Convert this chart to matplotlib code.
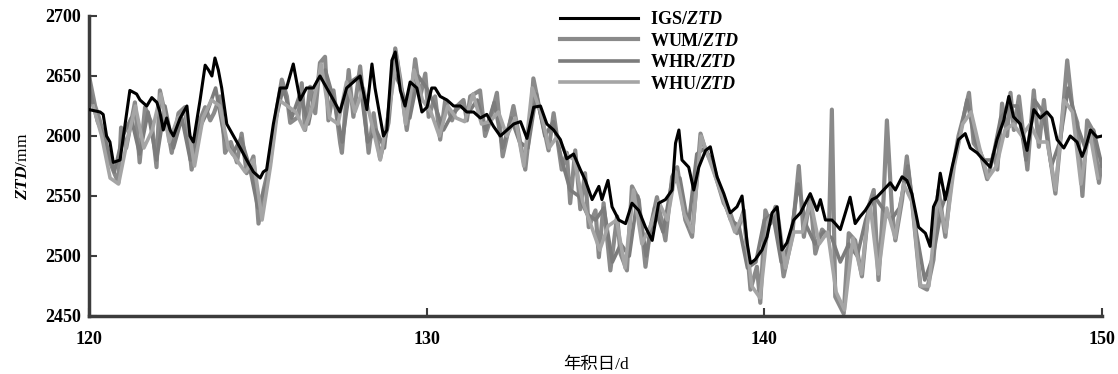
import numpy as np
import matplotlib
matplotlib.use("Agg")
import matplotlib.pyplot as plt

plt.rcParams["font.family"] = ["Liberation Serif", "Noto Sans CJK SC"]
plt.rcParams["font.weight"] = "bold"
plt.rcParams["mathtext.fontset"] = "custom"
plt.rcParams["mathtext.it"] = "Liberation Serif:italic:bold"
plt.rcParams["mathtext.rm"] = "Liberation Serif:bold"

# IGS reference ZTD (black line)
igs_day = [120.0, 120.33, 120.42, 120.52, 120.62, 120.72, 120.92, 121.12, 121.21, 121.41,
           121.51, 121.71, 121.86, 122.01, 122.1, 122.2, 122.3, 122.4, 122.5, 122.7,
           122.9, 122.99, 123.09, 123.29, 123.44, 123.54, 123.64, 123.73, 123.83, 123.93,
           124.08, 124.28, 124.48, 124.67, 124.87, 125.07, 125.16, 125.26, 125.46, 125.66,
           125.85, 126.05, 126.25, 126.44, 126.64, 126.84, 127.04, 127.24, 127.43, 127.63,
           127.83, 128.03, 128.23, 128.38, 128.47, 128.62, 128.72, 128.82, 128.97, 129.07,
           129.22, 129.36, 129.51, 129.71, 129.86, 130.01, 130.15, 130.25, 130.4, 130.6,
           130.8, 131.0, 131.19, 131.39, 131.59, 131.78, 131.98, 132.18, 132.38, 132.58,
           132.78, 132.97, 133.17, 133.37, 133.56, 133.76, 133.96, 134.15, 134.35, 134.55,
           134.7, 134.9, 135.1, 135.19, 135.37, 135.49, 135.69, 135.89, 136.08, 136.28,
           136.48, 136.68, 136.87, 137.07, 137.27, 137.37, 137.47, 137.56, 137.76, 137.91,
           138.06, 138.26, 138.4, 138.6, 138.8, 138.99, 139.19, 139.34, 139.49, 139.59,
           139.73, 139.93, 140.08, 140.23, 140.38, 140.52, 140.67, 140.87, 141.07, 141.36,
           141.56, 141.66, 141.81, 142.0, 142.1, 142.25, 142.4, 142.54, 142.69, 142.84,
           142.99, 143.19, 143.33, 143.53, 143.73, 143.88, 144.08, 144.22, 144.37, 144.57,
           144.77, 144.91, 145.01, 145.11, 145.21, 145.36, 145.56, 145.75, 145.95, 146.1,
           146.3, 146.49, 146.69, 146.89, 147.09, 147.24, 147.38, 147.58, 147.78, 147.98,
           148.17, 148.37, 148.52, 148.67, 148.87, 149.06, 149.26, 149.41, 149.51, 149.66,
           149.85, 150.0]
igs_ztd = [2622, 2620, 2618, 2600, 2595, 2578, 2580, 2620, 2638, 2635,
           2630, 2625, 2632, 2628, 2620, 2605, 2615, 2605, 2600, 2615,
           2625, 2600, 2595, 2630, 2659, 2655, 2650, 2665, 2655, 2640,
           2610, 2600, 2590, 2580, 2570, 2565, 2570, 2572, 2610, 2640,
           2640, 2660, 2630, 2640, 2640, 2650, 2640, 2630, 2620, 2640,
           2645, 2650, 2622, 2660, 2640, 2616, 2600, 2605, 2663, 2670,
           2638, 2625, 2645, 2640, 2620, 2624, 2640, 2640, 2633, 2630,
           2625, 2625, 2620, 2620, 2615, 2618, 2608, 2600, 2605, 2610,
           2612, 2598, 2624, 2625, 2610, 2605, 2597, 2581, 2585, 2572,
           2563, 2547, 2558, 2547, 2563, 2541, 2530, 2527, 2544, 2538,
           2524, 2513, 2544, 2547, 2555, 2594, 2605, 2580, 2574, 2555,
           2574, 2588, 2591, 2566, 2552, 2536, 2541, 2550, 2511, 2494,
           2497, 2505, 2516, 2536, 2541, 2505, 2511, 2530, 2536, 2552,
           2538, 2547, 2530, 2530, 2527, 2522, 2536, 2549, 2527, 2533,
           2538, 2547, 2549, 2555, 2561, 2555, 2566, 2563, 2552, 2524,
           2519, 2508, 2541, 2547, 2569, 2547, 2574, 2597, 2602, 2590,
           2586, 2580, 2574, 2597, 2613, 2633, 2616, 2610, 2588, 2622,
           2615, 2620, 2615, 2597, 2590, 2600, 2595, 2583, 2590, 2605,
           2599, 2600]

# WUM ZTD
wum_day = [120.0, 120.18, 120.3, 120.47, 120.6, 120.75, 120.87, 120.95, 121.1, 121.36,
           121.5, 121.66, 121.86, 122.0, 122.1, 122.25, 122.45, 122.65, 122.84, 123.04,
           123.24, 123.44, 123.59, 123.7, 123.88, 123.98, 124.03, 124.2, 124.38, 124.52,
           124.67, 124.87, 125.02, 125.17, 125.36, 125.56, 125.71, 125.86, 125.96, 126.2,
           126.3, 126.4, 126.55, 126.7, 126.84, 126.99, 127.09, 127.24, 127.44, 127.49,
           127.69, 127.83, 128.03, 128.28, 128.43, 128.62, 128.87, 129.07, 129.22, 129.41,
           129.51, 129.66, 129.81, 129.96, 130.06, 130.25, 130.4, 130.55, 130.75, 130.9,
           131.09, 131.19, 131.29, 131.58, 131.73, 131.88, 132.08, 132.25, 132.42, 132.57,
           132.92, 133.06, 133.16, 133.31, 133.46, 133.61, 133.76, 134.0, 134.15, 134.25,
           134.4, 134.55, 134.69, 134.8, 135.0, 135.1, 135.24, 135.44, 135.64, 135.74,
           135.93, 136.08, 136.28, 136.48, 136.63, 136.82, 137.07, 137.27, 137.42, 137.66,
           137.86, 138.11, 138.26, 138.45, 138.8, 139.0, 139.19, 139.39, 139.59, 139.78,
           139.88, 140.03, 140.18, 140.33, 140.57, 140.82, 141.02, 141.17, 141.36, 141.51,
           141.71, 141.91, 142.0, 142.1, 142.35, 142.5, 142.69, 142.89, 143.09, 143.24,
           143.38, 143.53, 143.63, 143.78, 143.88, 144.08, 144.22, 144.37, 144.62, 144.82,
           145.01, 145.16, 145.36, 145.56, 145.75, 145.9, 146.06, 146.2, 146.4, 146.6,
           146.8, 146.9, 147.04, 147.19, 147.29, 147.39, 147.54, 147.79, 147.98, 148.13,
           148.28, 148.43, 148.62, 148.77, 148.97, 149.12, 149.27, 149.42, 149.56, 149.76,
           149.91, 150.0]
wum_ztd = [2650, 2625, 2615, 2597, 2580, 2569, 2561, 2607, 2590, 2628,
           2578, 2624, 2610, 2574, 2638, 2619, 2586, 2619, 2624, 2572,
           2610, 2624, 2613, 2619, 2633, 2605, 2586, 2595, 2578, 2602,
           2569, 2583, 2527, 2555, 2578, 2622, 2647, 2633, 2611, 2616,
           2644, 2605, 2641, 2619, 2661, 2666, 2613, 2638, 2594, 2586,
           2655, 2616, 2658, 2586, 2619, 2581, 2611, 2673, 2647, 2605,
           2625, 2664, 2633, 2652, 2616, 2633, 2597, 2630, 2613, 2625,
           2630, 2613, 2633, 2638, 2600, 2613, 2636, 2583, 2605, 2625,
           2572, 2608, 2648, 2627, 2608, 2588, 2619, 2572, 2586, 2544,
           2588, 2539, 2569, 2524, 2538, 2499, 2544, 2488, 2533, 2502,
           2488, 2558, 2547, 2491, 2524, 2549, 2513, 2566, 2574, 2530,
           2516, 2602, 2588, 2577, 2544, 2535, 2519, 2538, 2472, 2491,
           2461, 2538, 2527, 2541, 2483, 2516, 2575, 2516, 2549, 2502,
           2522, 2516, 2622, 2466, 2452, 2519, 2513, 2483, 2541, 2555,
           2480, 2547, 2613, 2538, 2513, 2547, 2583, 2547, 2475, 2472,
           2497, 2555, 2516, 2569, 2600, 2616, 2636, 2594, 2586, 2564,
           2586, 2572, 2627, 2600, 2636, 2605, 2633, 2572, 2638, 2591,
           2630, 2589, 2552, 2597, 2663, 2624, 2611, 2550, 2613, 2603,
           2561, 2580]

# WHR ZTD, every 6 h from day 120.0
whr_start = 120.0
whr_ztd = [2640, 2612, 2595, 2570, 2600, 2615, 2585, 2620, 2580, 2625,
           2590, 2615, 2580, 2605, 2620, 2640, 2600, 2585, 2598, 2575,
           2540, 2560, 2610, 2640, 2615, 2635, 2610, 2645, 2655, 2630,
           2595, 2645, 2650, 2595, 2605, 2590, 2655, 2640, 2615, 2650,
           2640, 2625, 2605, 2618, 2625, 2620, 2630, 2605, 2628, 2590,
           2615, 2595, 2590, 2635, 2600, 2612, 2580, 2555, 2550, 2535,
           2530, 2540, 2495, 2510, 2500, 2550, 2500, 2540, 2520, 2560,
           2565, 2525, 2585, 2590, 2575, 2550, 2530, 2525, 2490, 2495,
           2530, 2535, 2495, 2510, 2560, 2525, 2510, 2520, 2515, 2495,
           2510, 2500, 2530, 2550, 2540, 2530, 2540, 2575, 2520, 2480,
           2500, 2540, 2560, 2595, 2630, 2595, 2580, 2580, 2615, 2625,
           2625, 2580, 2630, 2620, 2575, 2595, 2640, 2610, 2590, 2605,
           2575]

# WHU ZTD, every 6 h from day 120.125
whu_start = 120.125
whu_ztd = [2625, 2600, 2565, 2560, 2595, 2625, 2590, 2605, 2635, 2595,
           2615, 2620, 2575, 2615, 2630, 2625, 2590, 2580, 2570, 2580,
           2530, 2575, 2630, 2625, 2620, 2605, 2625, 2660, 2615, 2610,
           2645, 2620, 2640, 2610, 2580, 2620, 2665, 2610, 2655, 2630,
           2620, 2600, 2625, 2615, 2612, 2635, 2610, 2612, 2620, 2600,
           2615, 2575, 2640, 2620, 2590, 2600, 2585, 2580, 2545, 2525,
           2505, 2525, 2530, 2490, 2555, 2510, 2525, 2545, 2530, 2570,
           2535, 2520, 2600, 2580, 2560, 2540, 2520, 2535, 2475, 2465,
           2530, 2540, 2490, 2520, 2520, 2545, 2510, 2520, 2470, 2455,
           2515, 2485, 2545, 2485, 2540, 2515, 2560, 2545, 2475, 2475,
           2550, 2520, 2575, 2610, 2620, 2590, 2565, 2575, 2605, 2610,
           2600, 2610, 2595, 2595, 2555, 2630, 2620, 2560, 2605, 2565]

whr_day = whr_start + 0.25 * np.arange(len(whr_ztd))
whu_day = whu_start + 0.25 * np.arange(len(whu_ztd))

fig = plt.figure(figsize=(11.18, 3.74), dpi=100)
ax = fig.add_axes([89 / 1118, 1 - 316 / 374, (1102 - 89) / 1118, 300 / 374])

ax.plot(wum_day, wum_ztd, color="#8a8a8a", lw=3.0, label=r"WUM/$ZTD$", zorder=2)
ax.plot(whr_day, whr_ztd, color="#7c7c7c", lw=2.6, label=r"WHR/$ZTD$", zorder=2)
ax.plot(whu_day, whu_ztd, color="#a5a5a5", lw=2.6, label=r"WHU/$ZTD$", zorder=2)
ax.plot(igs_day, igs_ztd, color="black", lw=2.2, label=r"IGS/$ZTD$", zorder=3)

ax.set_xlim(120, 150)
ax.set_ylim(2450, 2700)
ax.set_xticks([120, 130, 140, 150])
ax.set_yticks([2450, 2500, 2550, 2600, 2650, 2700])
for s in ["top", "right"]:
    ax.spines[s].set_visible(False)
for s in ["left", "bottom"]:
    ax.spines[s].set_linewidth(2.5)
    ax.spines[s].set_color("#3c3c3c")
ax.tick_params(direction="in", length=6, width=1.5, labelsize=13, colors="#3c3c3c",
               labelcolor="black")
ax.tick_params(axis="x", pad=11)
ax.tick_params(axis="y", pad=6)

ax.set_xlabel("年积日/d", fontsize=12.5, labelpad=6)
ax.set_ylabel(r"$ZTD$/mm", fontsize=12.5, labelpad=10)

handles, labels = ax.get_legend_handles_labels()
order = [3, 0, 1, 2]
ax.legend([handles[i] for i in order], [labels[i] for i in order],
          loc="upper left", bbox_to_anchor=(560 / 1118, 1 - 11 / 374),
          bbox_transform=fig.transFigure, frameon=False, fontsize=13,
          handlelength=4.3, handletextpad=0.7, labelspacing=0.25,
          borderpad=0, borderaxespad=0)

fig.savefig("out.png", dpi=100)
